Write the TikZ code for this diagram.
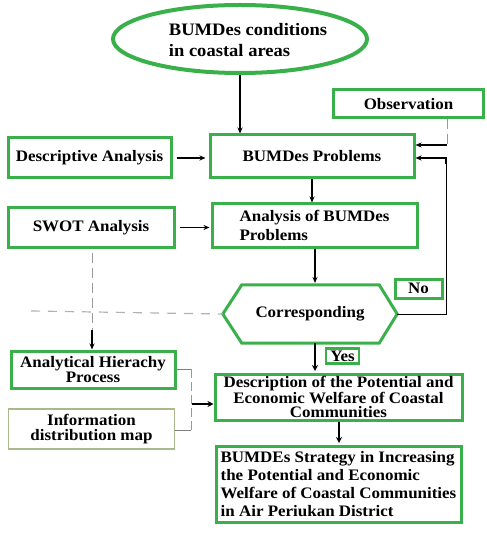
\documentclass[tikz,border=0pt]{standalone}
\usepackage{fontspec}
\setmainfont[FakeStretch=1.06]{Liberation Serif}
\usetikzlibrary{arrows.meta,calc,shapes.geometric}
\definecolor{bgreen}{RGB}{58,176,74}
\definecolor{olivebd}{RGB}{170,185,140}
\tikzset{
  box/.style={draw=bgreen,line width=3pt,rectangle,inner sep=0pt,font=\bfseries\fontsize{16}{16}\selectfont},
  arr/.style={-{Stealth[length=6pt,width=5pt]},line width=1.3pt,black},
  tarr/.style={-{Stealth[length=6pt,width=6pt]},line width=2.4pt,black},
  gdash/.style={draw=gray!80,line width=1pt,dash pattern=on 10pt off 5pt},
  ldash/.style={draw=gray!60,line width=1.2pt,dash pattern=on 9pt off 8pt},
}
\begin{document}
\begin{tikzpicture}[x=1pt,y=-1pt]
\useasboundingbox (0,0) rectangle (486,534);
% ellipse
\node[draw=bgreen,line width=4pt,ellipse,minimum width=254pt,minimum height=68pt,inner sep=0pt] (ell) at (240,39) {};
\node[align=left,inner sep=0pt,font=\bfseries\fontsize{17.5}{21}\selectfont] (ellt) at (248,40) {BUMDes conditions\\in coastal areas};
% boxes
\node[box,minimum width=150pt,minimum height=28pt] (obs) at (408.5,104) {Observation};
\node[box,minimum width=163pt,minimum height=40pt] (desc) at (89.5,158) {Descriptive Analysis};
\node[box,minimum width=204pt,minimum height=43pt] (prob) at (312,156.5) {BUMDes Problems};
\node[box,minimum width=166pt,minimum height=39pt] (swot) at (91,227.5) {SWOT Analysis};
\node[box,minimum width=205pt,minimum height=43pt,align=left,
  font=\bfseries\fontsize{16}{19}\selectfont] (anal) at (314.5,225.5) {Analysis of BUMDes\\Problems};
% hexagon
\node[inner sep=0pt,minimum width=174pt,minimum height=58pt,font=\bfseries\fontsize{16}{16}\selectfont] (corr) at (310,314) {Corresponding};
\draw[draw=bgreen,line width=3pt,line join=miter]
  (corr.west) -- ($(corr.north west)+(19,0)$) -- ($(corr.north east)+(-18,0)$) -- (corr.east)
  -- ($(corr.south east)+(-18,0)$) -- ($(corr.south west)+(19,0)$) -- cycle;
\node[box,minimum width=47pt,minimum height=19pt] (no) at (418.5,288.5) {No};
\node[box,minimum width=33pt,minimum height=15pt,line width=2.5pt] (yes) at (342.5,356) {Yes};
\node[box,minimum width=247pt,minimum height=46pt,align=center,
  font=\bfseries\fontsize{16}{14.5}\selectfont] (dscr) at (338.5,397)
  {Description of the Potential and\\Economic Welfare of Coastal\\Communities};
\node[box,minimum width=164pt,minimum height=37pt,align=center,
  font=\bfseries\fontsize{16}{13.5}\selectfont] (ahp) at (93,369.5) {Analytical Hierachy\\Process};
\node[box,draw=olivebd,line width=1.3pt,minimum width=166pt,minimum height=40pt,align=center,
  font=\bfseries\fontsize{16}{14.5}\selectfont] (info) at (91.5,429) {Information\\distribution map};
\node[box,minimum width=245pt,minimum height=76pt,align=left,
  font=\bfseries\fontsize{16}{18}\selectfont] (strat) at (338.5,484)
  {BUMDEs Strategy in Increasing\\the Potential and Economic\\Welfare of Coastal Communities\\in Air Periukan District};
% connectors
\draw[arr] (ell.south) -- (ell.south |- prob.north);
\draw[arr,shorten <=4pt,shorten >=3pt] (desc.east) -- (prob.west |- desc.east);
\draw[arr] (prob.south) -- (prob.south |- anal.north);
\draw[arr,shorten <=4pt,shorten >=1pt] (swot.east) -- (anal.west |- swot.east);
\draw[arr] (anal.south -| 315,0) -- (315,283);
\draw[tarr] (corr.south -| 315,0) -- (315,371);
\draw[tarr] (dscr.south -| 339,0) -- (339,443);
% observation
\coordinate (obsturn) at (447,145);
\draw[gdash] (obs.south -| obsturn) -- (obsturn);
\draw[arr] (obsturn) -- (prob.east |- obsturn);
% No loop
\coordinate (nocorner) at (446,314);
\draw[line width=1pt] (corr.east) -- (nocorner) -- (446,163);
\draw[arr] (446,164) -- (446,158) -- (prob.east |- 0,158);
% dashed lines left
\draw[ldash] (31,311) -- (corr.west);
\draw[gdash] (swot.south -| 92,0) ++(0,4) -- (92,333);
\draw[arr] (92,330) -- (ahp.north -| 92,0);
% bracket
\coordinate (bt) at (191,369);
\coordinate (bb) at (191,430);
\draw[draw=gray,line width=1pt] (ahp.east |- bt) -- (bt);
\draw[gdash,dash pattern=on 9pt off 4pt] (bt) -- (bb);
\draw[draw=gray,line width=1pt] (bb) -- (info.east |- bb);
\draw[tarr,line width=2pt] (192,404) -- (dscr.west |- 0,404);
\end{tikzpicture}
\end{document}
